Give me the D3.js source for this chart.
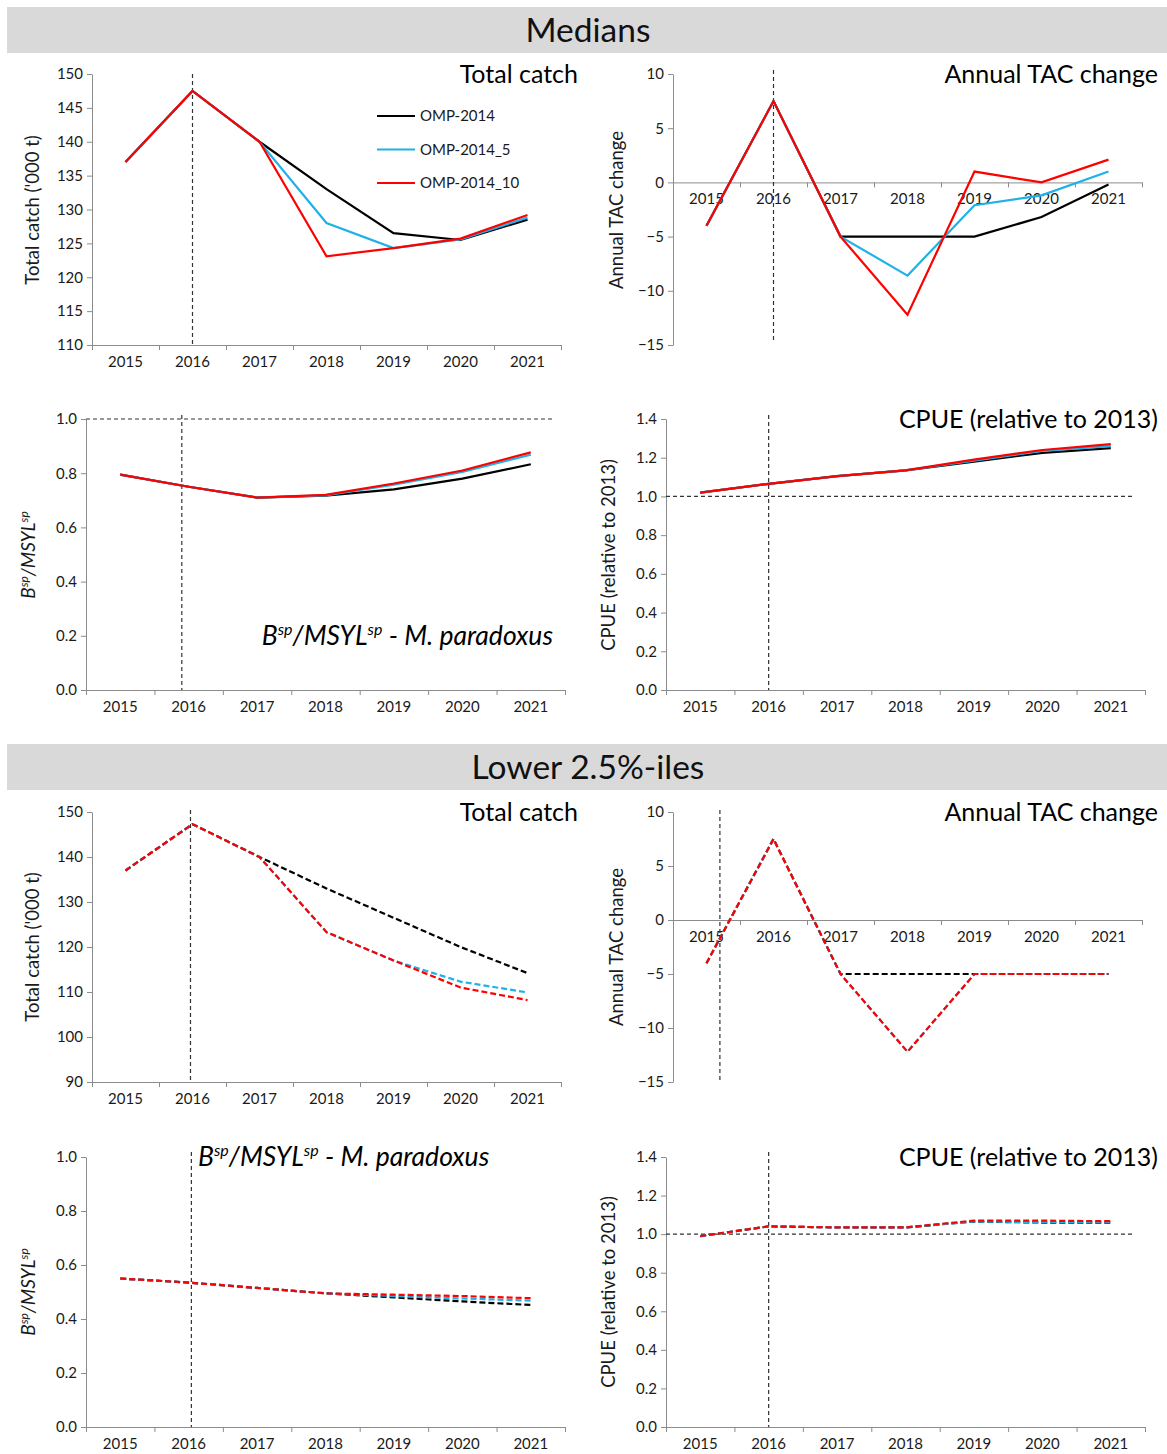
<!DOCTYPE html>
<html>
<head>
<meta charset="utf-8">
<script src="https://cdn.jsdelivr.net/npm/d3@7"></script>
<style>
  body { margin: 0; background: #fff; }
  svg text { font-family: Lato, "Open Sans", sans-serif; }
</style>
</head>
<body>
<div id="chart"></div>
<script>
'use strict';

// categories and series
var years = [2015, 2016, 2017, 2018, 2019, 2020, 2021];
var seriesNames = ['OMP-2014', 'OMP-2014_5', 'OMP-2014_10'];
var seriesColors = ['#000000', '#1fb2ea', '#ff0000'];

// medians (order: OMP-2014, OMP-2014_5, OMP-2014_10)
var medCatch = [
  [137, 147.5, 140, 133.0, 126.5, 125.5, 128.5],
  [137, 147.5, 140, 128.0, 124.3, 125.6, 128.8],
  [137, 147.5, 140, 123.1, 124.3, 125.7, 129.2]
];
var medTac = [
  [-4, 7.5, -5, -5.0, -5.0, -3.2, -0.2],
  [-4, 7.5, -5, -8.6, -2.1, -1.2, 1.0],
  [-4, 7.5, -5, -12.2, 1.0, 0.0, 2.1]
];
var medBsp = [
  [0.795, 0.750, 0.710, 0.717, 0.740, 0.780, 0.833],
  [0.795, 0.750, 0.710, 0.718, 0.758, 0.805, 0.868],
  [0.795, 0.750, 0.710, 0.720, 0.762, 0.810, 0.877]
];
var medCpue = [
  [1.02, 1.065, 1.105, 1.135, 1.180, 1.225, 1.250],
  [1.02, 1.065, 1.105, 1.135, 1.185, 1.235, 1.260],
  [1.02, 1.065, 1.105, 1.135, 1.190, 1.240, 1.270]
];

// lower 2.5%-iles
var lowCatch = [
  [137, 147.3, 140, 133.0, 126.5, 120.0, 114.2],
  [137, 147.3, 140, 123.3, 117.0, 112.3, 109.9],
  [137, 147.3, 140, 123.3, 117.0, 111.0, 108.2]
];
var lowTac = [
  [-4, 7.5, -5, -5.0, -5, -5, -5],
  [-4, 7.5, -5, -12.2, -5, -5, -5],
  [-4, 7.5, -5, -12.2, -5, -5, -5]
];
var lowBsp = [
  [0.550, 0.535, 0.515, 0.495, 0.480, 0.465, 0.452],
  [0.550, 0.535, 0.515, 0.495, 0.485, 0.476, 0.468],
  [0.550, 0.535, 0.515, 0.495, 0.490, 0.485, 0.477]
];
var lowCpue = [
  [0.99, 1.04, 1.035, 1.035, 1.065, 1.060, 1.060],
  [0.99, 1.04, 1.035, 1.035, 1.066, 1.062, 1.062],
  [0.99, 1.04, 1.035, 1.035, 1.070, 1.070, 1.067]
];

var W = 1167, H = 1454;
var axisColor = '#8c8c8c';
var textColor = '#1a1a1a';

var svg = d3.select('#chart').append('svg')
  .attr('width', W)
  .attr('height', H);

// section header bands
var sections = [
  {label: 'Medians', y: 7, h: 46},
  {label: 'Lower 2.5%-iles', y: 744, h: 46}
];
sections.forEach(function(s){
  svg.append('rect')
    .attr('x', 7).attr('y', s.y)
    .attr('width', W - 7).attr('height', s.h)
    .attr('fill', '#d9d9d9');
  svg.append('text')
    .attr('x', 588).attr('y', s.y + s.h / 2 + 12)
    .attr('text-anchor', 'middle')
    .attr('font-size', 33.5)
    .attr('fill', '#111')
    .text(s.label);
});

// writes "Bsp/MSYLsp" style text with superscripts
var bspText = function(sel, size, tail){
  var sup = Math.round(size * 0.62);
  sel.append('tspan').text('B');
  sel.append('tspan').attr('font-size', sup).attr('dy', -size * 0.38).text('sp');
  sel.append('tspan').attr('dy', size * 0.38).text('/MSYL');
  sel.append('tspan').attr('font-size', sup).attr('dy', -size * 0.38).text('sp');
  var t = sel.append('tspan').attr('dy', size * 0.38);
  if(tail) t.text(tail);
};

var drawPanel = function(p){
  var g = svg.append('g');
  var x = d3.scaleLinear().domain([2014.5, 2021.5]).range([p.x0, p.x1]);
  var y = d3.scaleLinear().domain(p.domain).range([p.yBot, p.yTop]);
  var yTicks = d3.range(p.domain[0], p.domain[1] + p.step / 2, p.step);
  var baseY = p.zeroAxis ? y(0) : p.yBot;

  // y axis
  var ya = g.append('g')
    .attr('transform', 'translate(' + p.x0 + ',0)')
    .call(d3.axisLeft(y).tickValues(yTicks).tickSize(5).tickSizeOuter(0)
      .tickFormat(d3.format(p.fmt)).tickPadding(4));
  ya.selectAll('path, line').attr('stroke', axisColor);
  ya.selectAll('text').attr('font-size', 15).attr('fill', textColor)
    .attr('font-family', 'Lato, sans-serif');

  // x axis: ticks between categories
  var boundaries = d3.range(2014.5, 2022, 1);
  var xa = g.append('g')
    .attr('transform', 'translate(0,' + baseY + ')')
    .call(d3.axisBottom(x).tickValues(boundaries).tickSize(5).tickSizeOuter(0).tickFormat(''));
  xa.selectAll('path, line').attr('stroke', axisColor);

  g.selectAll('text.xlab').data(years).enter().append('text')
    .attr('class', 'xlab')
    .attr('x', function(d){ return x(d); })
    .attr('y', baseY + 22)
    .attr('text-anchor', 'middle')
    .attr('font-size', 15)
    .attr('fill', textColor)
    .text(function(d){ return d; });

  // reference lines
  if(p.hline !== undefined){
    g.append('line')
      .attr('x1', p.x0).attr('x2', p.hx1)
      .attr('y1', y(p.hline)).attr('y2', y(p.hline))
      .attr('stroke', '#333').attr('stroke-width', 1.2)
      .attr('stroke-dasharray', '4,3');
  }
  g.append('line')
    .attr('x1', x(p.vline)).attr('x2', x(p.vline))
    .attr('y1', p.vTop).attr('y2', p.vBot)
    .attr('stroke', '#333').attr('stroke-width', 1.2)
    .attr('stroke-dasharray', '4,3');

  // series
  var line = d3.line()
    .x(function(d, i){ return x(years[i]); })
    .y(function(d){ return y(d); });
  p.data.forEach(function(s, i){
    g.append('path')
      .datum(s)
      .attr('d', line)
      .attr('fill', 'none')
      .attr('stroke', seriesColors[i])
      .attr('stroke-width', 2.2)
      .attr('stroke-dasharray', p.dashed ? '6,3' : null);
  });

  // title
  var tt = g.append('text')
    .attr('x', p.tx).attr('y', p.ty)
    .attr('text-anchor', p.tAnchor || 'end')
    .attr('font-size', 25)
    .attr('fill', '#000');
  if(p.bspTitle){
    tt.attr('font-style', 'italic').attr('font-size', 26.5);
    bspText(tt, 26.5, ' - M. paradoxus');
  } else {
    tt.text(p.title);
  }

  // y label
  var yl = g.append('text')
    .attr('transform', 'translate(' + p.lx + ',' + p.ly + ') rotate(-90)')
    .attr('text-anchor', 'middle')
    .attr('fill', textColor);
  if(p.bspLabel){
    yl.attr('font-size', 19).attr('font-style', 'italic');
    bspText(yl, 19, '');
  } else {
    yl.attr('font-size', 18.5).text(p.ylabel);
  }
};

var panels = [
  {data: medCatch, x0: 92, x1: 561, yTop: 74, yBot: 345, domain: [110, 150], step: 5, fmt: 'd',
   vline: 2016, vTop: 74, vBot: 345, title: 'Total catch', tx: 578, ty: 83,
   ylabel: "Total catch ('000 t)", lx: 39, ly: 210},
  {data: medTac, x0: 673, x1: 1142, yTop: 74, yBot: 345, domain: [-15, 10], step: 5, fmt: 'd', zeroAxis: true,
   vline: 2016, vTop: 70, vBot: 342, title: 'Annual TAC change', tx: 1158, ty: 83,
   ylabel: 'Annual TAC change', lx: 623, ly: 210},
  {data: medBsp, x0: 86, x1: 565, yTop: 419, yBot: 690, domain: [0, 1], step: 0.2, fmt: '.1f',
   hline: 1, hx1: 552, vline: 2015.9, vTop: 415, vBot: 690, bspTitle: true, tx: 553, ty: 645,
   bspLabel: true, lx: 35, ly: 555},
  {data: medCpue, x0: 666, x1: 1145, yTop: 419, yBot: 690, domain: [0, 1.4], step: 0.2, fmt: '.1f',
   hline: 1, hx1: 1132, vline: 2016, vTop: 415, vBot: 690, title: 'CPUE (relative to 2013)', tx: 1158, ty: 428,
   ylabel: 'CPUE (relative to 2013)', lx: 615, ly: 555},
  {data: lowCatch, dashed: true, x0: 92, x1: 561, yTop: 812, yBot: 1082, domain: [90, 150], step: 10, fmt: 'd',
   vline: 2015.97, vTop: 810, vBot: 1082, title: 'Total catch', tx: 578, ty: 821,
   ylabel: "Total catch ('000 t)", lx: 39, ly: 947},
  {data: lowTac, dashed: true, x0: 673, x1: 1142, yTop: 812, yBot: 1082, domain: [-15, 10], step: 5, fmt: 'd', zeroAxis: true,
   vline: 2015.2, vTop: 810, vBot: 1080, title: 'Annual TAC change', tx: 1158, ty: 821,
   ylabel: 'Annual TAC change', lx: 623, ly: 947},
  {data: lowBsp, dashed: true, x0: 86, x1: 565, yTop: 1157, yBot: 1427, domain: [0, 1], step: 0.2, fmt: '.1f',
   vline: 2016.04, vTop: 1152, vBot: 1427, bspTitle: true, tx: 198, ty: 1166, tAnchor: 'start',
   bspLabel: true, lx: 35, ly: 1292},
  {data: lowCpue, dashed: true, x0: 666, x1: 1145, yTop: 1157, yBot: 1427, domain: [0, 1.4], step: 0.2, fmt: '.1f',
   hline: 1, hx1: 1132, vline: 2016, vTop: 1152, vBot: 1427, title: 'CPUE (relative to 2013)', tx: 1158, ty: 1166,
   ylabel: 'CPUE (relative to 2013)', lx: 615, ly: 1292}
];

panels.forEach(drawPanel);

// legend (top-left panel only)
var legend = svg.append('g').attr('transform', 'translate(377,116)');
seriesNames.forEach(function(name, i){
  legend.append('line')
    .attr('x1', 0).attr('x2', 38)
    .attr('y1', i * 33.5).attr('y2', i * 33.5)
    .attr('stroke', seriesColors[i]).attr('stroke-width', 2.2);
  legend.append('text')
    .attr('x', 43).attr('y', i * 33.5 + 5)
    .attr('font-size', 15)
    .attr('fill', textColor)
    .text(name);
});
</script>
</body>
</html>
